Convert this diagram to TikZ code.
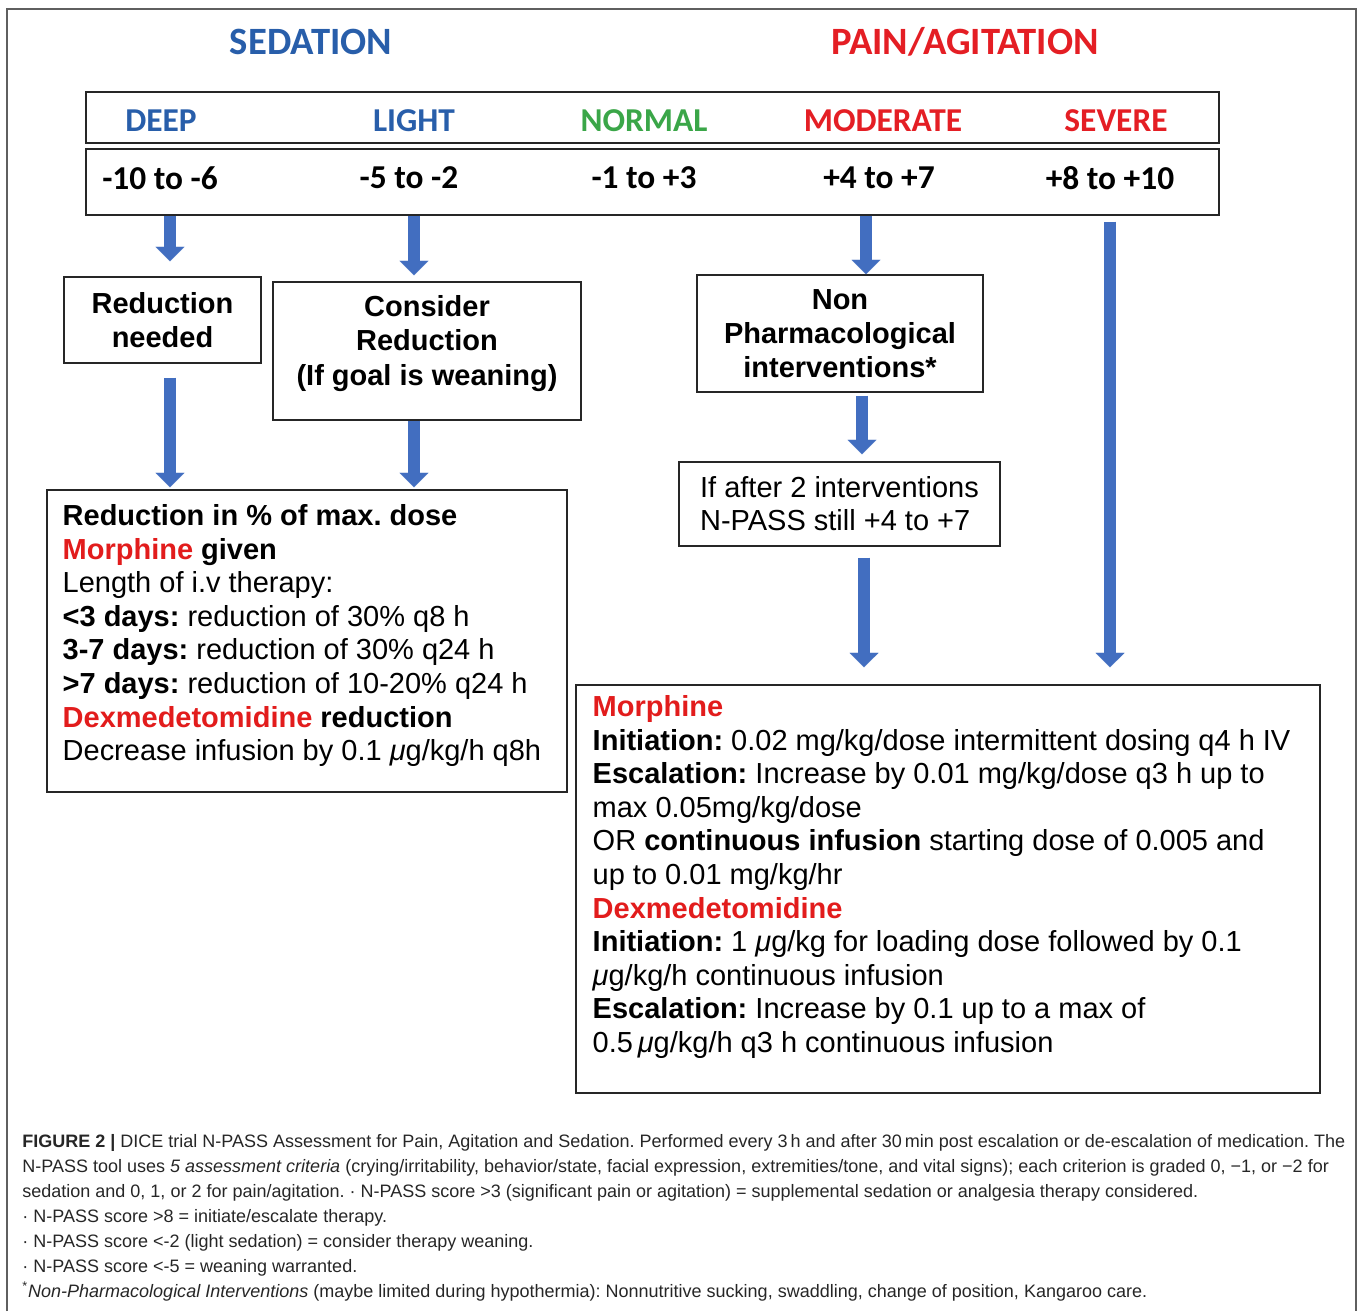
\documentclass[tikz,border=0pt]{standalone}
\usepackage{fontspec}
\setmainfont{Liberation Sans}
\newfontfamily\headfont{Carlito}
\usetikzlibrary{arrows.meta,positioning}
\definecolor{sedblue}{RGB}{40,94,170}
\definecolor{painred}{RGB}{228,30,36}
\definecolor{normgreen}{RGB}{58,166,72}
\definecolor{drugred}{RGB}{226,28,28}
\definecolor{arrblue}{RGB}{66,110,192}
\definecolor{framegray}{RGB}{95,95,95}
\newcommand{\drug}[1]{\textcolor{drugred}{\textbf{#1}}}
\newcommand{\mug}{\textit{μ}g}
\frenchspacing
\tikzset{
  ttl/.style={font=\headfont\fontsize{22}{26}\selectfont\bfseries},
  cat/.style={font=\headfont\fontsize{19}{22}\selectfont\bfseries},
  rng/.style={font=\headfont\fontsize{19}{22}\selectfont\bfseries, text=black},
  box/.style={draw=black!85, line width=0.8pt, align=center, inner sep=0pt,
              font=\fontsize{16.5}{19.5}\selectfont\bfseries},
  frm/.style={draw=black!85, line width=0.8pt, inner sep=0pt},
  txt/.style={font=\fontsize{16.5}{19.1}\selectfont, align=left, inner sep=0pt, anchor=north west},
  blkarr/.style={-{Triangle[width=0.58cm, length=0.29cm, line width=0.1pt]}, arrblue, line width=0.23cm},
  captxt/.style={font=\fontsize{10.25}{14.2}\selectfont, align=left, inner sep=0pt,
              anchor=north west, text=black!85},
}

\begin{document}
\begin{tikzpicture}[x=0.02cm, y=-0.02cm]
  \useasboundingbox (0,0) rectangle (1358,1311);
  \draw[framegray, line width=0.8pt] (7,1311) -- (7,9) -- (1356,9) -- (1356,1311);

  \node[ttl, text=sedblue] (sed) at (311,42) {SEDATION};
  \node[ttl, text=painred] (pain) at (965,42) {PAIN/AGITATION};

  % scale header
  \node[frm, minimum width=22.66cm, minimum height=1.02cm] (catbox) at (652.5,117.5) {};
  \node[frm, minimum width=22.66cm, minimum height=1.32cm] (valbox) at (652.5,182) {};
  \node[cat, text=sedblue] (deep) at (161,121) {DEEP};
  \node[cat, text=sedblue] (light) at (414,121) {LIGHT};
  \node[cat, text=normgreen] (normal) at (644,121) {NORMAL};
  \node[cat, text=painred] (moderate) at (883,121) {MODERATE};
  \node[cat, text=painred] (severe) at (1116,121) {SEVERE};
  \node[rng] (vdeep) at (160,178) {-10 to -6};
  \node[rng] (vlight) at (409,178) {-5 to -2};
  \node[rng] (vnormal) at (644,178) {-1 to +3};
  \node[rng] (vmoderate) at (879,178) {+4 to +7};
  \node[rng] (vsevere) at (1110,178) {+8 to +10};

  \node[box, minimum width=3.94cm, minimum height=1.72cm] (redneed) at (162.5,320) {Reduction\\needed};
  \node[box, minimum width=6.16cm, minimum height=2.76cm, text depth=12pt] (consider) at (427,351)
    {Consider\\Reduction\\(If goal is weaning)};
  \node[box, minimum width=5.72cm, minimum height=2.34cm] (nonpharm) at (840,333.5)
    {Non\\Pharmacological\\interventions*};
  \node[box, font=\fontsize{16.5}{18.8}\selectfont, align=left, minimum width=6.42cm, minimum height=1.68cm]
    (ifafter) at (839.5,504) {If after 2 interventions\\N-PASS still +4 to +7};

  % weaning
  \node[frm, minimum width=10.4cm, minimum height=6.04cm] (wean) at (307,641) {};
  \node[txt] (weantxt) at ([shift={(16,15)}]wean.north west)
    {\textbf{Reduction in \% of max. dose}\\
     \drug{Morphine} \textbf{given}\\
     Length of i.v therapy:\\
     \textbf{<3 days:} reduction of 30\% q8 h\\
     \textbf{3-7 days:} reduction of 30\% q24 h\\
     \textbf{>7 days:} reduction of 10-20\% q24 h\\
     \drug{Dexmedetomidine} \textbf{reduction}\\
     Decrease infusion by 0.1 \mug/kg/h q8h};

  % escalation
  \node[frm, minimum width=14.88cm, minimum height=8.16cm] (treat) at (948,889) {};
  \node[txt] (treattxt) at ([shift={(17,11)}]treat.north west)
    {\drug{Morphine}\\
     \textbf{Initiation:} 0.02 mg/kg/dose intermittent dosing q4 h IV\\
     \textbf{Escalation:} Increase by 0.01 mg/kg/dose q3 h up to\\
     max 0.05mg/kg/dose\\
     OR \textbf{continuous infusion} starting dose of 0.005 and\\
     up to 0.01 mg/kg/hr\\
     \drug{Dexmedetomidine}\\
     \textbf{Initiation:} 1 \mug/kg for loading dose followed by 0.1\\
     \mug/kg/h continuous infusion\\
     \textbf{Escalation:} Increase by 0.1 up to a max of\\
     0.5\,\mug/kg/h q3 h continuous infusion};

  \coordinate (xdeep) at (170,0);
  \coordinate (xlight) at (414,0);
  \coordinate (xmod) at (866,0);
  \coordinate (xnon) at (862,0);
  \coordinate (xif) at (864,0);
  \coordinate (xsev) at (1110,0);
  \draw[blkarr, shorten >=0.3cm] (valbox.south -| xdeep) -- (redneed.north -| xdeep);
  \draw[blkarr, shorten >=0.12cm] (valbox.south -| xlight) -- (consider.north -| xlight);
  \draw[blkarr, shorten <=0.28cm, shorten >=0.04cm] (redneed.south -| xdeep) -- (wean.north -| xdeep);
  \draw[blkarr, shorten >=0.04cm] (consider.south -| xlight) -- (wean.north -| xlight);
  \draw[blkarr] (valbox.south -| xmod) -- (nonpharm.north -| xmod);
  \draw[blkarr, shorten <=0.06cm, shorten >=0.14cm] (nonpharm.south -| xnon) -- (ifafter.north -| xnon);
  \draw[blkarr, shorten <=0.22cm, shorten >=0.34cm] (ifafter.south -| xif) -- (treat.north -| xif);
  \draw[blkarr, shorten <=0.12cm, shorten >=0.34cm] (valbox.south -| xsev) -- (treat.north -| xsev);

  \node[captxt] (caption) at (22,1134)
    {\textbf{FIGURE 2 |} DICE trial N-PASS Assessment for Pain, Agitation and Sedation. Performed every 3\,h and after 30\,min post escalation or de-escalation of medication. The\\
     N-PASS tool uses \textit{5 assessment criteria} (crying/irritability, behavior/state, facial expression, extremities/tone, and vital signs); each criterion is graded 0, −1, or −2 for\\
     sedation and 0, 1, or 2 for pain/agitation. · N-PASS score >3 (significant pain or agitation) = supplemental sedation or analgesia therapy considered.\\
     · N-PASS score >8 = initiate/escalate therapy.\\
     · N-PASS score <-2 (light sedation) = consider therapy weaning.\\
     · N-PASS score <-5 = weaning warranted.\\
     \textsuperscript{*}\textit{Non-Pharmacological Interventions} (maybe limited during hypothermia): Nonnutritive sucking, swaddling, change of position, Kangaroo care.};
\end{tikzpicture}
\end{document}
